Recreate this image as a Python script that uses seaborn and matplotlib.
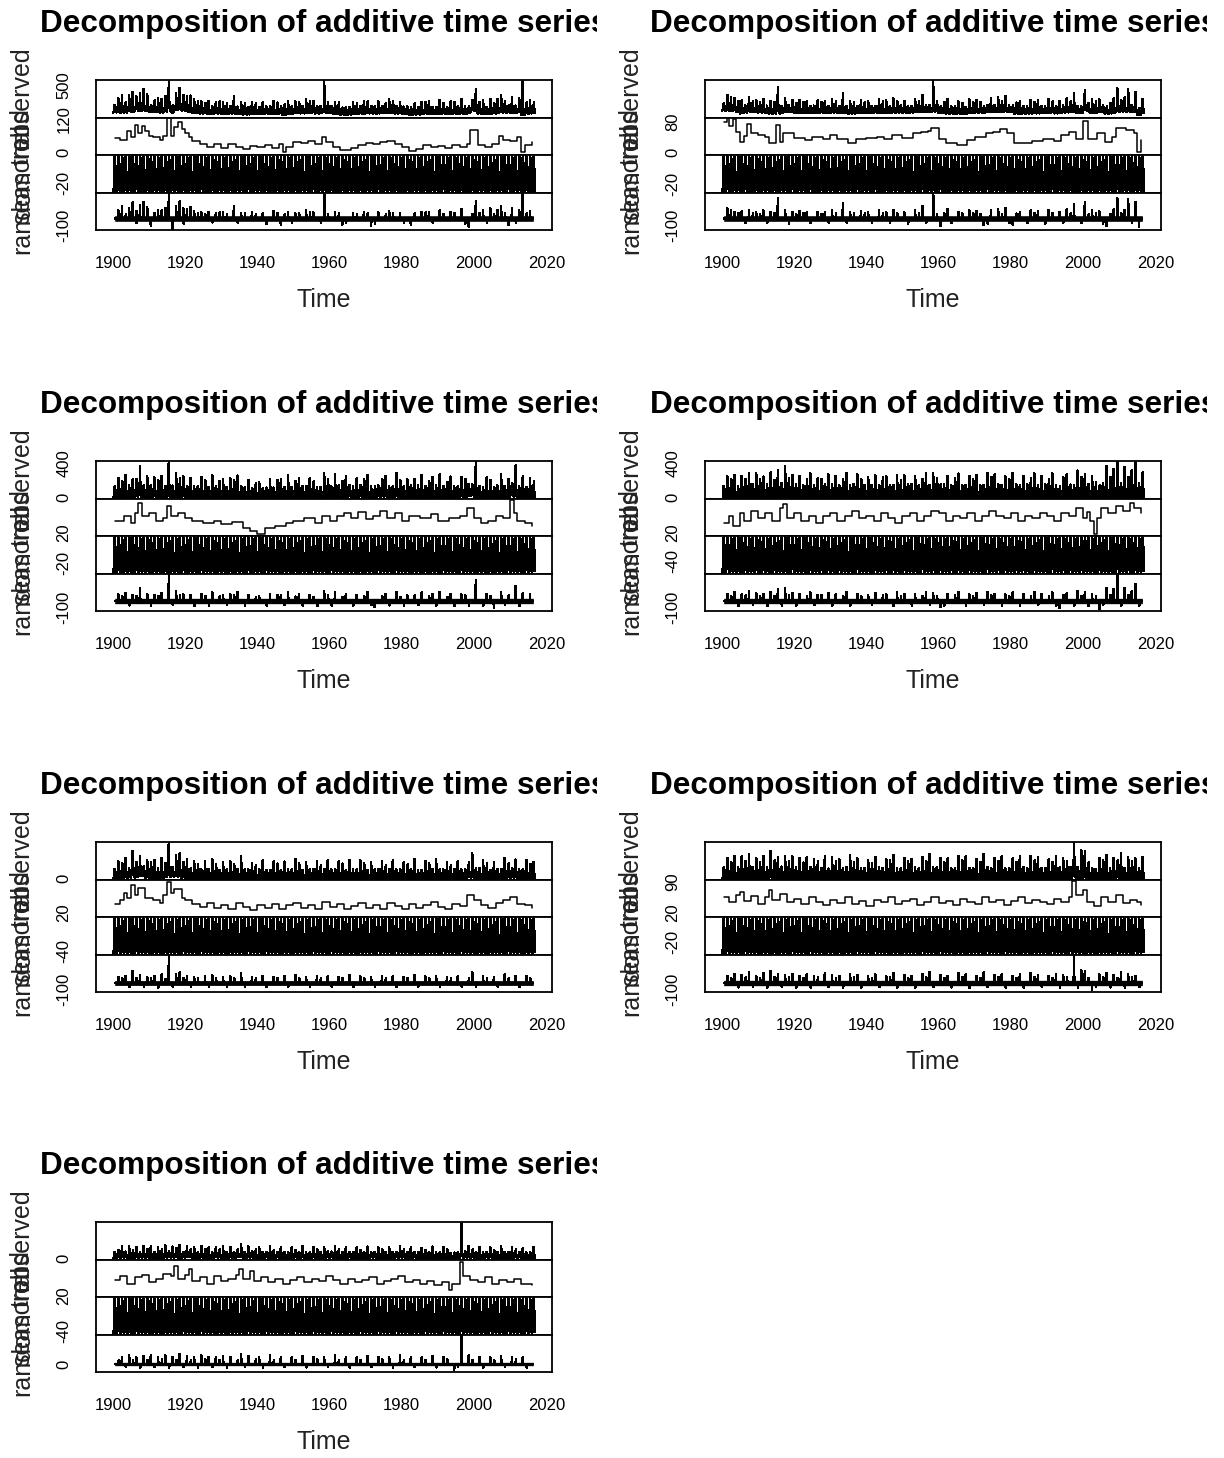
import numpy as np
import matplotlib
matplotlib.use('Agg')
import matplotlib.pyplot as plt
from matplotlib.transforms import Bbox
import seaborn as sns

sns.set_style('white')
plt.rcParams['font.family'] = ['Liberation Sans', 'DejaVu Sans']

# ---- data ---------------------------------------------------------------
# monthly seasonal figure (Jan..Dec) of each decomposition
season_1 = [-50, -52, -48, -40, -15, 40, 84, 80, 45, 0, -40, -48]
season_2 = [-48, -50, -46, -38, -14, 38, 82, 78, 42, 0, -38, -46]
season_3 = [-58, -60, -55, -45, -25, 25, 80, 75, 35, -5, -45, -55]
season_4 = [-95, -100, -92, -75, -40, 30, 90, 85, 45, -10, -70, -90]
season_5 = [-45, -48, -44, -38, -20, 20, 69, 65, 30, -5, -35, -44]
season_6 = [-62, -65, -60, -50, -25, 25, 75, 70, 35, -5, -50, -60]
season_7 = [-47, -50, -45, -38, -18, 25, 80, 75, 38, -3, -35, -45]

# trend readings (year, value)
trend_1 = [(1900.5, 50), (1902, 45), (1904, 75), (1905, 55), (1906, 98), (1907, 70), (1908, 95), (1909, 75),
           (1910, 60), (1911, 55), (1913, 45), (1914, 60), (1915, 124), (1916, 60), (1917, 90), (1918, 110),
           (1919, 85), (1920, 70), (1921, 55), (1922, 40), (1924, 30), (1926, 20), (1928, 30), (1930, 15),
           (1932, 30), (1934, 20), (1936, 10), (1938, 22), (1940, 18), (1942, 25), (1944, 15), (1946, 28),
           (1947, 0), (1948, 20), (1950, 35), (1952, 32), (1954, 40), (1956, 30), (1958, 55), (1959, 35),
           (1961, 20), (1963, 8), (1966, 15), (1968, 25), (1970, 32), (1972, 28), (1974, 35), (1976, 40),
           (1978, 30), (1980, 20), (1982, 5), (1984, 12), (1986, 25), (1988, 18), (1990, 22), (1992, 15),
           (1994, 25), (1996, 20), (1998, 30), (1999, 80), (2001, 25), (2003, 18), (2005, 30), (2007, 60),
           (2008, 45), (2010, 40), (2012, 55), (2013, 0), (2014, 25), (2016, 35)]
trend_2 = [(1900.5, 80), (1901.5, 90), (1902, 70), (1903, 88), (1904, 52), (1905, 28), (1906, 42), (1907, 75),
           (1908, 50), (1910, 45), (1912, 40), (1913, 25), (1915, 72), (1916, 28), (1917, 50), (1920, 38),
           (1923, 32), (1925, 40), (1928, 34), (1930, 45), (1932, 34), (1935, 25), (1937, 34), (1940, 38),
           (1943, 40), (1945, 34), (1947, 45), (1950, 38), (1953, 50), (1955, 52), (1957, 56), (1958, 63),
           (1960, 34), (1962, 25), (1965, 20), (1968, 32), (1970, 40), (1973, 50), (1975, 52), (1977, 60),
           (1979, 50), (1981, 25), (1983, 25), (1986, 30), (1989, 34), (1992, 30), (1994, 45), (1996, 52),
           (1998, 34), (2000, 82), (2001.5, 34), (2004, 50), (2006, 27), (2008, 40), (2009, 63), (2012, 58),
           (2014, 50), (2015, 0), (2016, 32)]
trend_3 = [(1900.5, 45), (1903, 55), (1905, 40), (1906, 60), (1907, 80), (1908, 55), (1910, 60), (1912, 45),
           (1914, 50), (1915, 75), (1916, 55), (1918, 60), (1920, 50), (1922, 45), (1925, 40), (1928, 45),
           (1930, 38), (1933, 42), (1936, 30), (1938, 25), (1940, 18), (1942, 30), (1945, 35), (1948, 40),
           (1950, 45), (1953, 50), (1956, 40), (1958, 55), (1960, 45), (1962, 55), (1964, 60), (1966, 50),
           (1968, 62), (1970, 48), (1972, 55), (1974, 65), (1976, 50), (1978, 60), (1980, 45), (1982, 55),
           (1985, 50), (1988, 58), (1990, 45), (1993, 50), (1996, 55), (1998, 70), (2000, 50), (2002, 40),
           (2004, 45), (2006, 55), (2008, 50), (2010, 86), (2011, 60), (2012, 45), (2014, 40), (2016, 35)]
trend_4 = [(1900.5, 40), (1902, 55), (1903, 35), (1905, 60), (1906, 45), (1908, 65), (1910, 50), (1912, 60),
           (1914, 45), (1916, 70), (1917, 78), (1918, 50), (1920, 60), (1922, 45), (1924, 55), (1926, 40),
           (1928, 55), (1930, 60), (1932, 45), (1934, 55), (1936, 65), (1938, 50), (1940, 55), (1942, 45),
           (1944, 60), (1946, 50), (1948, 40), (1950, 55), (1952, 60), (1954, 45), (1956, 55), (1958, 65),
           (1960, 60), (1962, 45), (1964, 55), (1966, 50), (1968, 60), (1970, 45), (1972, 55), (1974, 65),
           (1976, 55), (1978, 50), (1980, 60), (1982, 45), (1984, 55), (1986, 50), (1988, 60), (1990, 55),
           (1992, 45), (1994, 60), (1996, 55), (1998, 70), (2000, 50), (2001, 62), (2002, 45), (2003, 18),
           (2004, 50), (2005, 70), (2007, 60), (2009, 75), (2011, 65), (2013, 80), (2014, 70), (2016, 60)]
trend_5 = [(1900.5, 38), (1902, 45), (1903, 60), (1904, 50), (1905, 76), (1906, 55), (1907, 70), (1909, 50),
           (1911, 45), (1913, 40), (1914, 55), (1915, 82), (1916, 60), (1917, 68), (1919, 50), (1920, 45),
           (1922, 38), (1924, 32), (1926, 40), (1928, 30), (1930, 35), (1932, 28), (1934, 40), (1936, 32),
           (1938, 25), (1940, 35), (1942, 30), (1944, 38), (1946, 28), (1948, 35), (1950, 40), (1952, 30),
           (1954, 36), (1956, 28), (1958, 42), (1960, 32), (1962, 38), (1964, 28), (1966, 34), (1968, 40),
           (1970, 30), (1972, 36), (1974, 28), (1976, 40), (1978, 34), (1980, 28), (1982, 38), (1984, 30),
           (1986, 36), (1988, 42), (1990, 32), (1992, 28), (1994, 38), (1996, 34), (1998, 55), (2000, 45),
           (2002, 35), (2004, 30), (2006, 40), (2008, 45), (2010, 52), (2012, 38), (2014, 35), (2016, 30)]
trend_6 = [(1900.5, 55), (1902, 45), (1904, 60), (1905, 68), (1906, 48), (1908, 58), (1910, 40), (1912, 55),
           (1913, 72), (1914, 50), (1916, 62), (1918, 45), (1920, 52), (1922, 40), (1924, 55), (1926, 45),
           (1928, 38), (1930, 50), (1932, 42), (1934, 55), (1936, 40), (1938, 48), (1940, 35), (1942, 50),
           (1944, 45), (1946, 55), (1948, 40), (1950, 48), (1952, 52), (1954, 38), (1956, 45), (1958, 55),
           (1960, 42), (1962, 48), (1964, 38), (1966, 52), (1968, 45), (1970, 40), (1972, 55), (1974, 45),
           (1976, 50), (1978, 38), (1980, 48), (1982, 55), (1984, 42), (1986, 50), (1988, 45), (1990, 40),
           (1992, 52), (1994, 45), (1996, 55), (1997, 92), (1998, 60), (2000, 72), (2001, 45), (2003, 35),
           (2005, 55), (2007, 45), (2009, 60), (2011, 42), (2013, 50), (2015, 45), (2016, 38)]
trend_7 = [(1900.5, 52), (1902, 60), (1904, 45), (1906, 58), (1908, 62), (1910, 48), (1912, 55), (1914, 65),
           (1916, 60), (1917, 80), (1918, 55), (1920, 62), (1921, 75), (1922, 50), (1924, 58), (1926, 45),
           (1928, 60), (1930, 50), (1932, 55), (1934, 62), (1935, 74), (1936, 55), (1938, 70), (1939, 50),
           (1941, 58), (1943, 48), (1945, 55), (1947, 45), (1949, 52), (1951, 58), (1953, 48), (1955, 55),
           (1957, 50), (1959, 60), (1961, 52), (1963, 45), (1965, 55), (1967, 48), (1969, 52), (1971, 58),
           (1973, 45), (1975, 50), (1977, 55), (1979, 60), (1981, 48), (1983, 52), (1985, 45), (1987, 50),
           (1989, 42), (1991, 48), (1993, 32), (1994, 45), (1996, 88), (1997, 60), (1999, 52), (2001, 48),
           (2003, 58), (2005, 45), (2007, 52), (2009, 48), (2011, 55), (2013, 45), (2016, 42)]

# largest residuals (year, value), in the July peak
spikes_1 = [(1901, 120), (1902, 180), (1904, 150), (1905, 240), (1906, 110), (1907, 200), (1908, 250),
            (1909, 170), (1910, -110), (1912, 130), (1913, 120), (1914, 160), (1915, 420), (1916, -160),
            (1917, 190), (1918, 260), (1919, 150), (1920, 140), (1921, 170), (1922, 110), (1924, 90),
            (1926, 100), (1928, 80), (1930, 90), (1933, 190), (1935, 80), (1938, 90), (1941, 80), (1944, 110),
            (1946, -100), (1948, 100), (1950, 80), (1953, 120), (1955, 90), (1958, 480), (1961, 90),
            (1963, -90), (1966, 80), (1969, 100), (1971, -110), (1973, 90), (1976, 110), (1979, 80),
            (1982, -90), (1985, 100), (1987, 90), (1990, 120), (1993, 100), (1996, 140), (1998, -120),
            (2000, 260), (2002, 120), (2004, 150), (2006, 130), (2007, 180), (2009, -100), (2010, 150),
            (2012, 130), (2013, 520), (2015, 110)]
spikes_2 = [(1901, 150), (1902, 120), (1903, 100), (1905, 110), (1907, 130), (1909, 90), (1911, 120),
            (1913, 100), (1915, 310), (1917, 130), (1919, 100), (1921, 110), (1923, 90), (1926, 100),
            (1928, 90), (1930, 120), (1933, 230), (1935, 100), (1938, 110), (1940, 90), (1943, 120),
            (1945, 100), (1947, 130), (1950, 90), (1953, 120), (1955, 190), (1958, 460), (1960, -110),
            (1962, 140), (1965, 100), (1968, 120), (1970, 110), (1972, -100), (1974, 130), (1976, 140),
            (1978, 160), (1980, -90), (1982, 100), (1985, 120), (1987, 110), (1990, 130), (1993, 100),
            (1995, 140), (1997, 220), (2000, 250), (2002, 120), (2004, 110), (2006, -110), (2008, 140),
            (2009, 300), (2011, 130), (2012, 290), (2014, 250), (2015, -120), (2016, 130)]
spikes_3 = [(1901, 100), (1903, 120), (1905, 90), (1907, 200), (1909, 110), (1911, 90), (1913, 120),
            (1915, 420), (1917, 150), (1919, 100), (1921, 90), (1924, 110), (1927, 140), (1930, 90),
            (1932, 100), (1934, 130), (1937, 90), (1940, 80), (1943, 100), (1946, 90), (1948, 140),
            (1951, 100), (1954, 90), (1958, 150), (1961, 140), (1964, 100), (1967, 90), (1970, 130),
            (1972, -90), (1975, 100), (1978, 140), (1981, 90), (1985, 130), (1988, 100), (1990, 140),
            (1993, 110), (1996, 100), (2000, 320), (2003, 110), (2005, -100), (2007, 130), (2011, 230),
            (2013, 120), (2015, 100)]
spikes_4 = [(1901, 110), (1903, 130), (1905, 100), (1907, 150), (1909, 120), (1911, 100), (1913, 140),
            (1915, 180), (1917, 200), (1919, 120), (1921, 100), (1924, 130), (1926, 90), (1929, 120),
            (1931, 100), (1934, 140), (1937, 110), (1940, 90), (1942, 120), (1945, 100), (1948, 130),
            (1950, 110), (1953, 100), (1956, 140), (1958, 120), (1960, -90), (1962, 110), (1965, 130),
            (1968, 100), (1970, 120), (1973, 140), (1975, 110), (1978, 100), (1980, 130), (1983, 110),
            (1986, 140), (1988, 100), (1991, 130), (1993, -100), (1995, 120), (1998, 150), (2000, 130),
            (2002, 110), (2004, -120), (2006, 200), (2008, 180), (2009, 420), (2011, 200), (2013, 150),
            (2014, 260), (2016, 140)]
spikes_5 = [(1901, 90), (1903, 110), (1905, 180), (1907, 120), (1909, 90), (1911, 100), (1913, 130),
            (1915, 430), (1917, 140), (1918, 160), (1920, 110), (1922, 90), (1925, 100), (1927, 120),
            (1930, 90), (1932, 100), (1935, 150), (1938, 90), (1941, 110), (1944, 90), (1947, 100),
            (1950, 120), (1953, 90), (1956, 110), (1959, 100), (1962, 90), (1965, 120), (1968, 100),
            (1971, 90), (1974, 110), (1977, 100), (1980, 90), (1983, 120), (1986, 100), (1989, 110),
            (1992, 90), (1995, 100), (1999, 170), (2002, 110), (2005, 90), (2008, 130), (2011, 100),
            (2014, 110), (2016, 90)]
spikes_6 = [(1901, 110), (1903, 140), (1905, 120), (1907, 160), (1909, 110), (1911, 150), (1913, 180),
            (1915, 130), (1917, 120), (1919, 140), (1921, 110), (1923, 130), (1925, 100), (1928, 150),
            (1930, 120), (1932, 110), (1935, 140), (1937, 120), (1940, 100), (1942, 130), (1945, 110),
            (1947, 150), (1950, 120), (1952, 100), (1955, 140), (1957, 170), (1960, 120), (1962, 110),
            (1965, 150), (1967, 130), (1970, 110), (1972, 160), (1975, 120), (1977, 140), (1980, 110),
            (1982, 130), (1985, 150), (1987, 120), (1990, 110), (1992, 140), (1994, 120), (1997, 440),
            (1999, 200), (2000, 180), (2002, -110), (2004, 130), (2006, 150), (2008, 120), (2010, 160),
            (2012, 130), (2014, 110), (2016, 140)]
spikes_7 = [(1902, 110), (1904, 130), (1906, 100), (1908, 120), (1910, 140), (1912, 100), (1914, 130),
            (1916, 110), (1918, 150), (1920, 120), (1922, 100), (1924, 130), (1926, 110), (1928, 100),
            (1930, 120), (1932, 110), (1935, 150), (1937, 120), (1940, 100), (1943, 130), (1946, 110),
            (1949, 100), (1952, 120), (1955, 110), (1958, 100), (1961, 130), (1964, 110), (1967, 100),
            (1970, 120), (1973, 110), (1976, 100), (1979, 130), (1982, 110), (1985, 100), (1988, 120),
            (1991, 110), (1994, -90), (1996, 800), (1998, 130), (2001, 110), (2004, 100), (2007, 120),
            (2010, 110), (2013, 100), (2016, 120)]

# smaller residuals (year, value), in the August month
minor_1 = [(1903, 70), (1906, -65), (1911, 85), (1914, 60), (1919, -75), (1923, 80), (1925, 65), (1927, -60),
           (1929, 90), (1931, 70), (1934, -70), (1936, 75), (1939, 60), (1942, -80), (1945, 85), (1947, 65),
           (1949, -60), (1951, 75), (1954, 90), (1957, -70), (1959, 65), (1962, 80), (1964, -65), (1967, 70),
           (1970, 85), (1972, -75), (1975, 60), (1977, 80), (1980, -70), (1983, 75), (1986, 90), (1988, -60),
           (1991, 65), (1994, 80), (1997, -75), (1999, 70), (2001, 85), (2003, -65), (2005, 60), (2008, 80),
           (2011, -70), (2014, 75), (2016, 65)]
minor_2 = [(1904, 80), (1906, -70), (1908, 75), (1910, 65), (1912, -60), (1914, 85), (1918, -75), (1920, 60),
           (1922, 80), (1924, -65), (1927, 70), (1929, -60), (1931, 85), (1934, -70), (1936, 75), (1939, 80),
           (1941, -65), (1944, 85), (1946, -60), (1948, 75), (1951, -80), (1954, 85), (1956, -65), (1959, 60),
           (1961, 80), (1963, -70), (1966, 75), (1969, 85), (1971, 70), (1973, -75), (1977, 65), (1979, -70),
           (1981, 75), (1984, -65), (1986, 80), (1989, -75), (1991, 85), (1994, -60), (1996, 75), (1999, -70),
           (2001, 65), (2003, 85), (2005, -75), (2007, 70), (2010, 80), (2013, -65)]
minor_3 = [(1902, 70), (1904, -65), (1906, 80), (1910, -70), (1912, 75), (1916, -60), (1918, 85), (1922, -75),
           (1925, 80), (1926, -65), (1929, 70), (1931, -60), (1933, 85), (1936, -70), (1939, 60), (1942, -65),
           (1945, 85), (1947, -60), (1950, 65), (1952, -70), (1955, 60), (1956, -75), (1959, 85), (1960, -65),
           (1963, 60), (1966, -70), (1969, 75), (1971, -60), (1974, 70), (1976, -65), (1979, 60), (1980, -75),
           (1983, 85), (1984, -60), (1987, 65), (1989, -70), (1992, 60), (1994, -75), (1997, 85), (1998, -65),
           (2002, -70), (2004, 80), (2008, -60), (2009, 85), (2012, -75), (2016, 80)]
minor_4 = [(1902, 75), (1904, -70), (1906, 85), (1908, -60), (1910, 80), (1912, -75), (1914, 70), (1916, -65),
           (1918, 90), (1920, -70), (1923, 75), (1925, -60), (1927, 85), (1930, -65), (1933, 80), (1935, -70),
           (1938, 75), (1941, -60), (1944, 85), (1947, -75), (1949, 70), (1952, -65), (1955, 80), (1957, -60),
           (1959, 75), (1961, -70), (1964, 85), (1967, -65), (1969, 70), (1972, -60), (1974, 85), (1977, -75),
           (1979, 70), (1982, -65), (1985, 80), (1987, -60), (1990, 75), (1992, -70), (1994, 85), (1997, -65),
           (1999, 80), (2001, -75), (2003, 70), (2005, -60), (2007, 90), (2010, -70), (2012, 85), (2015, -65)]
minor_5 = [(1902, 65), (1904, -60), (1906, 75), (1908, -55), (1910, 70), (1912, -65), (1914, 60), (1916, -55),
           (1919, 75), (1921, -60), (1923, 65), (1926, -55), (1928, 70), (1931, -60), (1933, 75), (1936, -55),
           (1939, 65), (1942, -60), (1945, 70), (1948, -55), (1951, 75), (1954, -60), (1957, 65), (1960, -55),
           (1963, 70), (1966, -60), (1969, 75), (1972, -55), (1975, 65), (1978, -60), (1981, 70), (1984, -55),
           (1987, 75), (1990, -60), (1993, 65), (1996, -55), (1998, 70), (2000, -60), (2003, 75), (2006, -55),
           (2009, 65), (2012, -60), (2015, 70)]
minor_6 = [(1902, 75), (1904, -65), (1906, 85), (1908, -60), (1910, 80), (1912, -70), (1914, 90), (1916, -60),
           (1918, 85), (1920, -65), (1922, 75), (1924, -70), (1926, 90), (1929, -60), (1931, 80), (1933, -65),
           (1936, 85), (1938, -70), (1941, 75), (1943, -60), (1946, 90), (1948, -65), (1951, 80), (1953, -70),
           (1956, 85), (1958, -60), (1961, 75), (1963, -65), (1966, 90), (1968, -70), (1971, 80), (1973, -60),
           (1976, 85), (1978, -65), (1981, 75), (1983, -70), (1986, 90), (1988, -60), (1991, 80), (1993, -65),
           (1995, 85), (1998, -70), (2001, 75), (2003, -60), (2005, 90), (2007, -65), (2009, 80), (2011, -70),
           (2013, 85), (2015, -60)]
minor_7 = [(1901, 55), (1903, -45), (1905, 60), (1907, -50), (1909, 55), (1911, -45), (1913, 65), (1915, -50),
           (1917, 60), (1919, -45), (1921, 55), (1923, -50), (1925, 65), (1927, -45), (1929, 60), (1931, -50),
           (1934, 55), (1936, -45), (1939, 65), (1941, -50), (1944, 60), (1947, -45), (1950, 55), (1953, -50),
           (1956, 65), (1959, -45), (1962, 60), (1965, -50), (1968, 55), (1971, -45), (1974, 65), (1977, -50),
           (1980, 60), (1983, -45), (1986, 55), (1989, -50), (1992, 65), (1995, -45), (1999, 60), (2002, -50),
           (2005, 55), (2008, -45), (2011, 65), (2014, -50)]

# typical size of the remaining residual noise
noise = [42, 42, 40, 40, 36, 40, 25]

seasons = [season_1, season_2, season_3, season_4, season_5, season_6, season_7]
trends = [trend_1, trend_2, trend_3, trend_4, trend_5, trend_6, trend_7]
spikes = [spikes_1, spikes_2, spikes_3, spikes_4, spikes_5, spikes_6, spikes_7]
minors = [minor_1, minor_2, minor_3, minor_4, minor_5, minor_6, minor_7]

# axis settings per panel: (ylim, tick step, labelled ticks) for observed/trend/seasonal/random
axis_cfg = [
    [((-100, 600), 100, [500]), ((-11.6, 125.1), 20, [0, 120]), (None, 20, [-20]), ((-178, 385), 100, [-100])],
    [((-100, 600), 100, []), ((-8.5, 91.7), 20, [0, 80]), (None, 20, [-20]), ((-178, 385), 100, [-100])],
    [((-18.8, 423.5), 50, [0, 400]), ((13.6, 88.8), 10, [20]), (None, 20, [-20]), ((-156, 408), 100, [-100])],
    [((-18.8, 423.5), 50, [0, 400]), ((13.6, 88.8), 10, [20]), (None, 20, [-40]), ((-156, 408), 100, [-100])],
    [((-19, 432), 50, [0]), ((11.6, 86.4), 10, [20]), (None, 20, [-40]), ((-141, 423), 100, [-100])],
    [((-19, 432), 50, []), ((10.5, 95.4), 10, [20, 90]), (None, 20, [-20]), ((-141, 423), 100, [-100])],
    [((-35, 792), 100, [0]), ((17.6, 92.8), 10, [20]), (None, 20, [-40]), ((-126, 438), 100, [0])],
]

comp_names = ['observed', 'trend', 'seasonal', 'random']

# ---- layout -------------------------------------------------------------
W, H = 1224, 1458
fig = plt.figure(figsize=(W / 100, H / 100), dpi=100)
col_x = [96, 705]
col_clip = [597, 1207]
row_top = [80, 461, 842, 1222]
box_w, sub_h = 456, 37.6
XLIM = (1895.32, 2021.59)

months = 1900 + np.arange(117 * 12) / 12.0
inner = (months >= 1900.5) & (months <= 2016.42)


def fx(px):
    return px / W


def fy(py):
    return 1 - py / H


for k in range(7):
    row, col = divmod(k, 2)
    x0, top = col_x[col], row_top[row]

    ty, tv = np.array(trends[k], dtype=float).T
    seas = np.tile(seasons[k], 117)
    trend_m = tv[np.clip(np.searchsorted(ty, months, side='right') - 1, 0, len(ty) - 1)]
    rand_m = np.zeros_like(months)
    for yr, v in spikes[k]:
        rand_m[int(yr - 1900) * 12 + 6] = v
    for yr, v in minors[k]:
        rand_m[int(yr - 1900) * 12 + 7] = v
    obs = trend_m + seas + rand_m

    axes = []
    for j in range(4):
        ax = fig.add_axes([fx(x0), fy(top + (j + 1) * sub_h), fx(box_w), sub_h / H])
        axes.append(ax)
        ax.set_xlim(*XLIM)

    lw = 1.1
    sns.lineplot(x=months, y=obs, ax=axes[0], color='black', linewidth=lw,
                 estimator=None, sort=False, antialiased=False)
    sns.lineplot(x=ty, y=tv, ax=axes[1], color='black', linewidth=lw,
                 estimator=None, sort=False, drawstyle='steps-post')
    sns.lineplot(x=months, y=seas, ax=axes[2], color='black', linewidth=lw,
                 estimator=None, sort=False, antialiased=False)
    axes[3].fill_between(months[inner], -noise[k], noise[k], color='black', lw=0)
    sns.lineplot(x=months[inner], y=rand_m[inner], ax=axes[3], color='black', linewidth=lw,
                 estimator=None, sort=False, antialiased=False)

    for j, ax in enumerate(axes):
        ylim, step, labs = axis_cfg[k][j]
        if ylim is None:
            lo, hi = min(seasons[k]), max(seasons[k])
            pad = 0.04 * (hi - lo)
            ylim = (lo - pad, hi + pad)
        ax.set_ylim(*ylim)
        ticks = np.arange(np.ceil(ylim[0] / step) * step, ylim[1] + 1e-9, step)
        ax.set_yticks(ticks)
        ax.set_yticklabels([str(int(t)) if int(t) in labs else '' for t in ticks],
                           rotation=90, va='center', fontsize=12)
        ax.tick_params(axis='y', direction='out', length=8.6, width=1.0, pad=9, colors='black')
        ax.set_ylabel('')
        ax.set_xlabel('')
        for s in ax.spines.values():
            s.set_visible(True)
            s.set_color('black')
            s.set_linewidth(1.3)
        if j < 3:
            ax.set_xticks([])
        else:
            ax.set_xticks([1900, 1920, 1940, 1960, 1980, 2000, 2020])
            ax.set_xticklabels(['1900', '1920', '1940', '1960', '1980', '2000', '2020'], fontsize=12)
            ax.tick_params(axis='x', direction='out', length=8.6, width=1.0, pad=10, colors='black')
        fig.text(fx(x0 - 74), fy(top + (j + 0.5) * sub_h), comp_names[j], rotation=90,
                 ha='center', va='center', fontsize=18, color='#222222')

    t = fig.text(fx([40, 650][col]), fy(top - 56), 'Decomposition of additive time series',
                 ha='left', va='center', fontsize=22.7, fontweight='bold', color='black')
    t.set_clip_box(Bbox.from_extents(0, 0, col_clip[col], H))
    t.set_clip_on(True)
    fig.text(fx(x0 + box_w / 2), fy(top + 220), 'Time', ha='center', va='center',
             fontsize=18, color='#222222')

fig.savefig('out.png', dpi=100, facecolor='white')
